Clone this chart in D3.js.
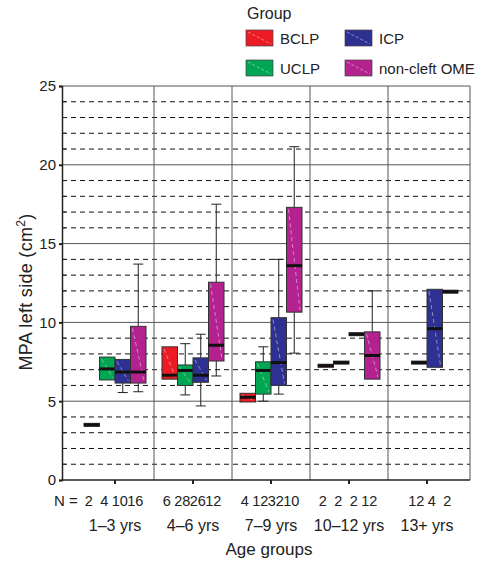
<!DOCTYPE html>
<html>
<head>
<meta charset="utf-8">
<script src="https://cdn.jsdelivr.net/npm/d3@7"></script>
<style>
  body { margin: 0; background: #fff; }
  svg { font-family: Arial, "Liberation Sans", sans-serif; }
</style>
</head>
<body>
<svg id="chart" width="481" height="562"></svg>
<script>
const ageGroups = ['1–3 yrs', '4–6 yrs', '7–9 yrs', '10–12 yrs', '13+ yrs'];
const groupNames = ['BCLP', 'UCLP', 'ICP', 'non-cleft OME'];
const groupColors = ['#ed1c24', '#00a651', '#2e3192', '#b3228f'];

// [lower whisker, Q1, median, Q3, upper whisker] per age group, null = no cases
const bclp = [[3.5, 3.5, 3.5, 3.5, 3.5], [6.4, 6.4, 6.65, 8.45, 8.45], [4.95, 4.95, 5.25, 5.5, 5.5], [7.25, 7.25, 7.25, 7.25, 7.25], null];
const uclp = [[6.35, 6.35, 7.05, 7.8, 7.8], [5.4, 6.0, 6.95, 7.3, 8.65], [5.0, 5.45, 6.95, 7.5, 8.45], [7.45, 7.45, 7.45, 7.45, 7.45], [7.45, 7.45, 7.45, 7.45, 7.45]];
const icp = [[5.55, 6.15, 6.85, 7.65, 7.65], [4.7, 6.2, 6.65, 7.75, 9.25], [5.45, 6.0, 7.45, 10.3, 14.0], [9.25, 9.25, 9.25, 9.25, 9.25], [7.15, 7.15, 9.6, 12.1, 12.1]];
const ome = [[5.6, 6.15, 6.85, 9.75, 13.7], [6.6, 7.55, 8.55, 12.55, 17.5], [8.05, 10.65, 13.6, 17.3, 21.15], [6.4, 6.4, 7.9, 9.4, 12.0], [11.95, 11.95, 11.95, 11.95, 11.95]];

// case counts shown under the axis
const nBclp = [2, 6, 4, 2, null];
const nUclp = [4, 28, 12, 2, 12];
const nIcp = [10, 26, 32, 2, 4];
const nOme = [16, 12, 10, 12, 2];

const yTicks = [0, 5, 10, 15, 20, 25];

const stats = [bclp, uclp, icp, ome];
const counts = [nBclp, nUclp, nIcp, nOme];

const svg = d3.select('#chart');
const plotLeft = 62, plotRight = 470, plotTop = 86, plotBottom = 480;

const y = d3.scaleLinear().domain([0, 25]).range([plotBottom, plotTop]);
const x = d3.scaleBand().domain(ageGroups).range([76, 466]);
const xs = d3.scaleBand().domain(groupNames).range([-31, 31]);

// grid
const grid = svg.append('g');
grid.selectAll('line.minor')
  .data(d3.range(1, 25).filter(v => v % 5 !== 0))
  .join('line')
  .attr('x1', plotLeft).attr('x2', plotRight)
  .attr('y1', d => y(d)).attr('y2', d => y(d))
  .attr('stroke', '#111').attr('stroke-width', 1)
  .attr('stroke-dasharray', '5,4');
grid.selectAll('line.major')
  .data([5, 10, 15, 20, 25])
  .join('line')
  .attr('x1', plotLeft).attr('x2', plotRight)
  .attr('y1', d => y(d)).attr('y2', d => y(d))
  .attr('stroke', '#555').attr('stroke-width', 1);
grid.selectAll('line.sep')
  .data(ageGroups.slice(1))
  .join('line')
  .attr('x1', d => x(d)).attr('x2', d => x(d))
  .attr('y1', plotTop).attr('y2', plotBottom)
  .attr('stroke', '#555').attr('stroke-width', 1);
grid.append('line')
  .attr('x1', plotRight).attr('x2', plotRight).attr('y1', plotTop).attr('y2', plotBottom)
  .attr('stroke', '#555');

// boxes
const boxes = [];
stats.forEach((arr, gi) => arr.forEach((s, ai) => {
  if (s) boxes.push({ g: groupNames[gi], color: groupColors[gi], age: ageGroups[ai], s });
}));

const bw = xs.bandwidth();
const bg = svg.append('g').selectAll('g').data(boxes).join('g')
  .attr('transform', d => `translate(${x(d.age) + x.bandwidth() / 2 + xs(d.g)},0)`);

bg.filter(d => d.s[4] > d.s[3]).append('line')
  .attr('x1', bw / 2).attr('x2', bw / 2)
  .attr('y1', d => y(d.s[4])).attr('y2', d => y(d.s[3]))
  .attr('stroke', '#222');
bg.filter(d => d.s[4] > d.s[3]).append('line')
  .attr('x1', bw / 2 - 5).attr('x2', bw / 2 + 5)
  .attr('y1', d => y(d.s[4])).attr('y2', d => y(d.s[4]))
  .attr('stroke', '#222');
bg.filter(d => d.s[0] < d.s[1]).append('line')
  .attr('x1', bw / 2).attr('x2', bw / 2)
  .attr('y1', d => y(d.s[0])).attr('y2', d => y(d.s[1]))
  .attr('stroke', '#222');
bg.filter(d => d.s[0] < d.s[1]).append('line')
  .attr('x1', bw / 2 - 5).attr('x2', bw / 2 + 5)
  .attr('y1', d => y(d.s[0])).attr('y2', d => y(d.s[0]))
  .attr('stroke', '#222');

bg.append('rect')
  .attr('x', 0).attr('width', bw)
  .attr('y', d => y(d.s[3]) - (d.s[3] === d.s[1] ? 1.5 : 0))
  .attr('height', d => Math.max(3, y(d.s[1]) - y(d.s[3])))
  .attr('fill', d => d.color)
  .attr('stroke', '#333').attr('stroke-width', 1);
bg.filter(d => d.s[3] > d.s[1]).append('line')
  .attr('x1', 2).attr('x2', bw - 2)
  .attr('y1', d => y(d.s[3]) + 2).attr('y2', d => y(d.s[1]) - 2)
  .attr('stroke', 'rgba(255,255,255,0.45)')
  .attr('stroke-dasharray', '4,3');
bg.append('line')
  .attr('x1', 0).attr('x2', bw)
  .attr('y1', d => y(d.s[2])).attr('y2', d => y(d.s[2]))
  .attr('stroke', '#111').attr('stroke-width', 3);

// y axis
const yAxis = svg.append('g').attr('transform', `translate(${plotLeft},0)`);
yAxis.call(d3.axisLeft(y).tickValues(yTicks).tickSize(3).tickPadding(3))
  .call(g => g.select('.domain').attr('stroke', '#222').attr('stroke-width', 1.5))
  .call(g => g.selectAll('.tick line').attr('stroke', '#222').attr('stroke-width', 2))
  .call(g => g.selectAll('.tick text').attr('font-size', 15).attr('fill', '#222')
    .attr('font-family', 'Arial, "Liberation Sans", sans-serif'));
yAxis.selectAll('line.minor')
  .data(d3.range(1, 25).filter(v => v % 5 !== 0))
  .join('line')
  .attr('x1', 0).attr('x2', 4)
  .attr('y1', d => y(d)).attr('y2', d => y(d))
  .attr('stroke', '#222');

// x axis
const xAxis = svg.append('g').attr('transform', `translate(0,${plotBottom})`);
xAxis.append('line').attr('x1', plotLeft).attr('x2', plotRight).attr('stroke', '#222').attr('stroke-width', 1.5);
xAxis.selectAll('line.tick').data(ageGroups).join('line')
  .attr('x1', d => x(d) + x.bandwidth() / 2).attr('x2', d => x(d) + x.bandwidth() / 2)
  .attr('y1', 0).attr('y2', 4).attr('stroke', '#222').attr('stroke-width', 2);

// N labels
svg.append('text').attr('x', 54).attr('y', 506).attr('font-size', 15).attr('fill', '#222').text('N =');
const nData = [];
counts.forEach((arr, gi) => arr.forEach((n, ai) => {
  if (n != null) nData.push({ n, g: groupNames[gi], age: ageGroups[ai] });
}));
svg.append('g').selectAll('text').data(nData).join('text')
  .attr('x', d => x(d.age) + x.bandwidth() / 2 + xs(d.g) + bw / 2 - 3)
  .attr('y', 506)
  .attr('text-anchor', 'middle')
  .attr('font-size', 14.5).attr('fill', '#222')
  .text(d => d.n);

svg.append('g').selectAll('text').data(ageGroups).join('text')
  .attr('x', d => x(d) + x.bandwidth() / 2)
  .attr('y', 531)
  .attr('text-anchor', 'middle')
  .attr('font-size', 16).attr('fill', '#222')
  .text(d => d);

svg.append('text').attr('x', 269).attr('y', 555).attr('text-anchor', 'middle')
  .attr('font-size', 17).attr('fill', '#222').text('Age groups');

svg.append('text')
  .attr('transform', 'translate(32,292) rotate(-90)')
  .attr('text-anchor', 'middle')
  .attr('font-size', 18).attr('fill', '#222')
  .attr('letter-spacing', 0.3)
  .call(t => {
    t.append('tspan').text('MPA left side (cm');
    t.append('tspan').attr('dy', -7).attr('font-size', 12).text('2');
    t.append('tspan').attr('dy', 7).text(')');
  });

// legend: BCLP top-left, ICP top-right, UCLP bottom-left, OME bottom-right
const legendPos = { BCLP: [246, 30], ICP: [345, 30], UCLP: [246, 60], 'non-cleft OME': [345, 60] };
const legend = svg.append('g');
legend.append('text').attr('x', 247).attr('y', 19).attr('font-size', 16).attr('fill', '#222').text('Group');
const li = legend.selectAll('g').data(groupNames).join('g')
  .attr('transform', d => `translate(${legendPos[d][0]},${legendPos[d][1]})`);
li.append('rect').attr('width', 27).attr('height', 16)
  .attr('fill', (d, i) => groupColors[i]).attr('stroke', '#444').attr('stroke-width', 0.7);
li.append('line').attr('x1', 2).attr('y1', 2).attr('x2', 25).attr('y2', 14)
  .attr('stroke', 'rgba(255,255,255,0.45)').attr('stroke-dasharray', '3,2');
li.append('text').attr('x', 34).attr('y', 14).attr('font-size', 15).attr('fill', '#222').text(d => d);
</script>
</body>
</html>
